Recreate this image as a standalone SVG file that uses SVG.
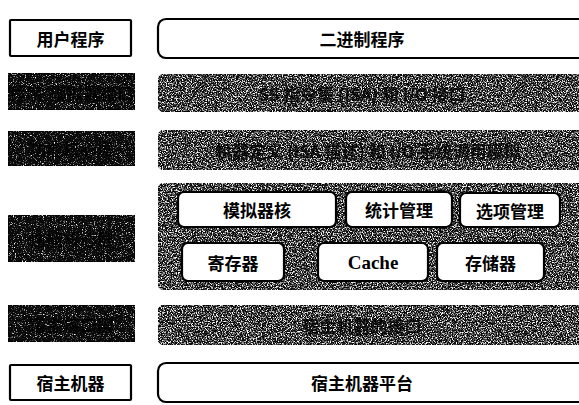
<svg xmlns="http://www.w3.org/2000/svg" width="579" height="405" viewBox="0 0 579 405">
<defs>
<style>
.lbl{fill:#fff;stroke:#000;stroke-width:2.2}
.t{font-family:"Noto Sans CJK SC","Noto Sans CJK JP",sans-serif;font-weight:bold;font-size:17px;fill:#000;text-anchor:middle;dominant-baseline:central}
.tl{font-family:"Liberation Serif",serif;font-weight:bold;font-size:19px;fill:#000;text-anchor:middle;dominant-baseline:central}
.dk{fill:#0a0a0a;stroke:#000;stroke-width:2}
.hid{font-family:"Noto Sans CJK SC","Noto Sans CJK JP",sans-serif;font-weight:bold;font-size:17px;fill:#000;text-anchor:middle;dominant-baseline:central;opacity:0.8}
</style>
<filter id="texR" x="0" y="0" width="100%" height="100%" color-interpolation-filters="sRGB">
<feTurbulence type="fractalNoise" baseFrequency="0.8" numOctaves="2" seed="7" result="n"/>
<feColorMatrix in="n" type="matrix" values="0 0 0 0 1  0 0 0 0 1  0 0 0 0 1  4 0 0 0 -1.8" result="sp"/>
<feComposite in="sp" in2="SourceAlpha" operator="in" result="spc"/>
<feMerge><feMergeNode in="SourceGraphic"/><feMergeNode in="spc"/></feMerge>
</filter>
<filter id="texL" x="0" y="0" width="100%" height="100%" color-interpolation-filters="sRGB">
<feTurbulence type="fractalNoise" baseFrequency="0.9" numOctaves="2" seed="11" result="n"/>
<feColorMatrix in="n" type="matrix" values="0 0 0 0 1  0 0 0 0 1  0 0 0 0 1  4 0 0 0 -2.3" result="sp"/>
<feComposite in="sp" in2="SourceAlpha" operator="in" result="spc"/>
<feMerge><feMergeNode in="SourceGraphic"/><feMergeNode in="spc"/></feMerge>
</filter>
</defs>
<rect width="579" height="405" fill="#fff"/>

<g id="user-label">
<rect class="lbl" x="10" y="20" width="121" height="36" rx="1"/>
<text class="t" x="70.5" y="38">用户程序</text>
</g>
<g id="binary">
<rect class="lbl" x="158" y="19" width="430" height="39" rx="8"/>
<text class="t" x="362" y="38">二进制程序</text>
</g>

<g id="interface-label">
<rect class="dk" x="8" y="73" width="127" height="37" filter="url(#texL)"/>
<text class="hid" x="71.5" y="92">程序/模拟器接口</text>
</g>
<g id="interface">
<rect class="dk" x="158" y="74" width="430" height="38" rx="8" filter="url(#texR)"/>
<text class="hid" x="362" y="93">SS 指令集 (ISA) 和 I/O 接口</text>
</g>

<g id="function-label">
<rect class="dk" x="8" y="131" width="127" height="35" filter="url(#texL)"/>
<text class="hid" x="71.5" y="148">功能核心层</text>
</g>
<g id="function">
<rect class="dk" x="158" y="130" width="430" height="40" rx="8" filter="url(#texR)"/>
<text class="hid" x="368" y="150">机器定义 (ISA 描述) 和 I/O 系统调用模拟</text>
</g>

<g id="core-label">
<rect class="dk" x="8" y="215" width="127" height="47" filter="url(#texL)"/>
<text class="hid" x="71.5" y="238">性能核心层</text>
</g>
<g id="core">
<rect class="dk" x="158" y="183" width="430" height="107" rx="8" filter="url(#texR)"/>
</g>
<g id="sim-core">
<rect class="lbl" x="178" y="192" width="158" height="35" rx="6"/>
<text class="t" x="257" y="209.5">模拟器核</text>
</g>
<g id="stats">
<rect class="lbl" x="346" y="192" width="106" height="35" rx="6"/>
<text class="t" x="399" y="209.5">统计管理</text>
</g>
<g id="options">
<rect class="lbl" x="460" y="193" width="100" height="34" rx="6"/>
<text class="t" x="510" y="210">选项管理</text>
</g>
<g id="regs">
<rect class="lbl" x="182" y="243" width="102" height="38" rx="6"/>
<text class="t" x="233" y="262">寄存器</text>
</g>
<g id="cache">
<rect class="lbl" x="318" y="243" width="110" height="38" rx="6"/>
<text class="tl" x="373" y="262">Cache</text>
</g>
<g id="memory">
<rect class="lbl" x="437" y="243" width="107" height="38" rx="6"/>
<text class="t" x="490.5" y="262">存储器</text>
</g>

<g id="host-if-label">
<rect class="dk" x="8" y="305" width="127" height="37" filter="url(#texL)"/>
<text class="hid" x="71.5" y="324">宿主接口层</text>
</g>
<g id="host-if">
<rect class="dk" x="158" y="305" width="430" height="40" rx="8" filter="url(#texR)"/>
<text class="hid" x="362" y="325">宿主机器的接口</text>
</g>

<g id="host-label">
<rect class="lbl" x="10" y="365" width="121" height="35" rx="1"/>
<text class="t" x="70.5" y="382.5">宿主机器</text>
</g>
<g id="host">
<rect class="lbl" x="158" y="363" width="430" height="39" rx="8"/>
<text class="t" x="362" y="382.5">宿主机器平台</text>
</g>
</svg>
